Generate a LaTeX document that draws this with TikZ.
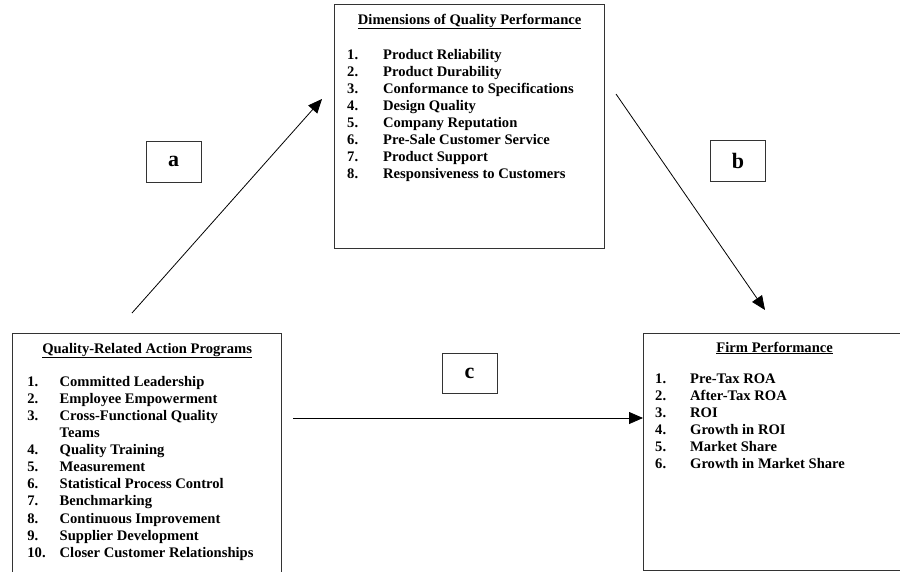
\documentclass[tikz,border=0pt]{standalone}
\usepackage{fontspec}
\setmainfont{Liberation Serif}
\usetikzlibrary{matrix, arrows.meta}

\begin{document}
\begin{tikzpicture}
        [x=1pt, y=-1pt,
        every node/.style={font=\fontsize{14.6}{17}\selectfont\bfseries},
        frame/.style={draw=black!80, line width=1.3pt, inner sep=0, anchor=north west},
        heading/.style={anchor=base},
        items/.style={matrix of nodes, anchor=north west, inner sep=0, row sep=3.1pt,
          nodes={anchor=base west, inner sep=0, text height=11pt, text depth=3pt}},
        tag/.style={draw=black!80, line width=1pt, minimum width=55pt,
          minimum height=41pt, inner sep=0, font=\fontsize{22}{24}\selectfont\bfseries},
        link/.style={-{Triangle[length=14pt, width=12pt]}, line width=0.8pt}]

    \useasboundingbox (0,0) rectangle (900,571);

    \node[frame, minimum width=270pt, minimum height=244pt] (dims) at (334,4) {};
    \node[frame, minimum width=269pt, minimum height=250pt] (actions) at (12,333) {};
    \node[frame, minimum width=262pt, minimum height=237pt] (firm) at (643,333) {};

    \node[heading] (dimstitle) at (dims.north |- 0,24)
      {\underline{Dimensions of Quality Performance}};
    \node[heading] (actionstitle) at (actions.north |- 0,353)
      {\underline{Quality-Related Action Programs}};
    \node[heading] (firmtitle) at (firm.north |- 0,352)
      {\underline{Firm Performance}};

    \matrix (dimslist) [items, column sep=25pt] at (347,48)
    {
      1. & Product Reliability \\
      2. & Product Durability \\
      3. & Conformance to Specifications \\
      4. & Design Quality \\
      5. & Company Reputation \\
      6. & Pre-Sale Customer Service \\
      7. & Product Support \\
      8. & Responsiveness to Customers \\
    };

    \matrix (actionslist) [items, column sep=14pt] at (27,375)
    {
      1. & Committed Leadership \\
      2. & Employee Empowerment \\
      3. & Cross-Functional Quality \\
         & Teams \\
      4. & Quality Training \\
      5. & Measurement \\
      6. & Statistical Process Control \\
      7. & Benchmarking \\
      8. & Continuous Improvement \\
      9. & Supplier Development \\
      10. & Closer Customer Relationships \\
    };

    \matrix (firmlist) [items, column sep=24pt] at (655,372)
    {
      1. & Pre-Tax ROA \\
      2. & After-Tax ROA \\
      3. & ROI \\
      4. & Growth in ROI \\
      5. & Market Share \\
      6. & Growth in Market Share \\
    };

    \node[tag] (a) at (173.5,161.5) {a};
    \node[tag] (b) at (738,161) {b};
    \node[tag, minimum height=40pt] (c) at (469.5,373) {c};

    \coordinate (aFrom) at (132,313);
    \coordinate (aTo) at (322,99);
    \coordinate (bFrom) at (616,94);
    \coordinate (bTo) at (765,310);
    \coordinate (cFrom) at (293,418);

    \draw[link] (aFrom) -- (aTo);
    \draw[link] (bFrom) -- (bTo);
    \draw[link] (cFrom) -- (cFrom -| firm.west);
\end{tikzpicture}
\end{document}
